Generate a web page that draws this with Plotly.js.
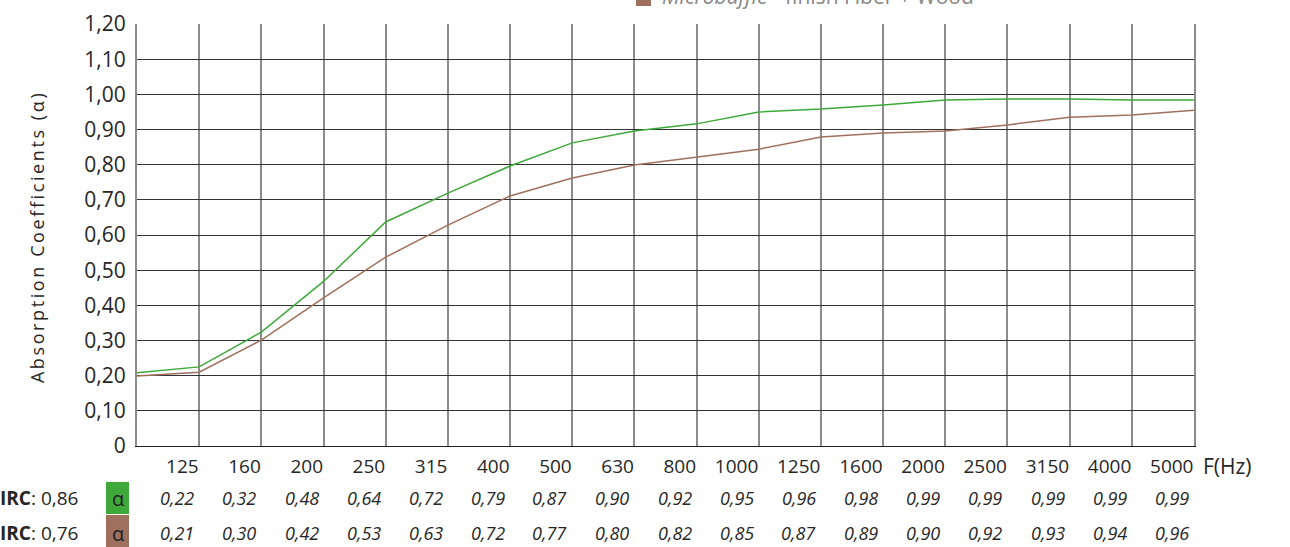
<!DOCTYPE html>
<html>
<head>
<meta charset="utf-8">
<script src="https://cdn.plot.ly/plotly-3.0.1.min.js"></script>
<style>
html,body{margin:0;padding:0;background:#fff;}
#chart{width:1290px;height:547px;}
</style>
</head>
<body>
<div id="chart"></div>
<script>
// Frequency labels (Hz) for the measured bands; the first plotted point has no label
const freqLabels = ['125','160','200','250','315','400','500','630','800','1000','1250','1600','2000','2500','3150','4000','5000'];
// Curve values (first point is the unlabeled start)
const greenLine = [0.208,0.225,0.324,0.468,0.637,0.719,0.796,0.862,0.896,0.916,0.950,0.958,0.970,0.984,0.987,0.987,0.984,0.984];
const brownLine = [0.199,0.210,0.301,0.421,0.537,0.628,0.711,0.762,0.799,0.822,0.844,0.879,0.890,0.896,0.913,0.935,0.941,0.955];
// Table values printed under the chart
const greenTable = ['0,22','0,32','0,48','0,64','0,72','0,79','0,87','0,90','0,92','0,95','0,96','0,98','0,99','0,99','0,99','0,99','0,99'];
const brownTable = ['0,21','0,30','0,42','0,53','0,63','0,72','0,77','0,80','0,82','0,85','0,87','0,89','0,90','0,92','0,93','0,94','0,96'];
const rowLabels = ['<b>IRC</b>: 0,86','<b>IRC</b>: 0,76'];
const legendText = '<i>Microbaffle</i> - finish Fiber + Wood';
const yTickVals = [0,0.1,0.2,0.3,0.4,0.5,0.6,0.7,0.8,0.9,1.0,1.1,1.2];
const yTickText = ['0','0,10','0,20','0,30','0,40','0,50','0,60','0,70','0,80','0,90','1,00','1,10','1,20'];

const GREEN = '#3ea83a';
const BROWN = '#a0705f';
const FONT = '"Open Sans", "Noto Sans", sans-serif';
const TXT = '#262626';

const W = 1290, H = 547;
const M = {l:137, r:96, t:24, b:101};
const PW = W - M.l - M.r, PH = H - M.t - M.b;
const px = X => (X - M.l) / PW;
const py = Y => (H - M.b - Y) / PH;

const xIdx = greenLine.map((_, i) => i);
const labelIdx = freqLabels.map((_, i) => i + 1);

const traces = [
  {x: xIdx, y: greenLine, type: 'scatter', mode: 'lines', line: {color: GREEN, width: 1.5}, name: 'Microbaffle', showlegend: false, hoverinfo: 'skip'},
  {x: xIdx, y: brownLine, type: 'scatter', mode: 'lines', line: {color: BROWN, width: 1.5}, name: 'Microbaffle - finish Fiber + Wood', showlegend: false, hoverinfo: 'skip'}
];

const annotations = [];
const shapes = [];
// table rows
[greenTable, brownTable].forEach((row, r) => {
  const Y = r === 0 ? 498 : 533;
  row.forEach((v, i) => {
    annotations.push({x: labelIdx[i], xref: 'x', y: py(Y), yref: 'paper', text: '<i>' + v + '</i>',
      showarrow: false, xanchor: 'right', yanchor: 'middle', xshift: -3,
      font: {family: FONT, size: 18, color: TXT}});
  });
  annotations.push({x: px(-2), xref: 'paper', y: py(Y), yref: 'paper', text: rowLabels[r],
    showarrow: false, xanchor: 'left', yanchor: 'middle', font: {family: FONT, size: 19, color: TXT}});
  shapes.push({type: 'rect', xref: 'paper', yref: 'paper', x0: px(106), x1: px(129),
    y0: py(r === 0 ? 514 : 548), y1: py(r === 0 ? 482 : 515), fillcolor: r === 0 ? GREEN : BROWN, line: {width: 0}});
  annotations.push({x: px(117.5), xref: 'paper', y: py(Y), yref: 'paper', text: 'α',
    showarrow: false, xanchor: 'center', yanchor: 'middle', font: {family: FONT, size: 20, color: '#222'}});
});
// x unit
annotations.push({x: px(1201), xref: 'paper', y: py(466), yref: 'paper', text: 'F(Hz)', showarrow: false,
  xanchor: 'left', yanchor: 'middle', font: {family: FONT, size: 21, color: TXT}});
// legend (cut at top)
shapes.push({type: 'rect', xref: 'paper', yref: 'paper', x0: px(636), x1: px(651), y0: py(6), y1: py(-10),
  fillcolor: BROWN, line: {width: 0}});
annotations.push({x: px(660), xref: 'paper', y: py(-4), yref: 'paper', text: legendText, showarrow: false,
  xanchor: 'left', yanchor: 'middle', font: {family: FONT, size: 21, color: '#888'}});
// y axis title
annotations.push({x: px(37), xref: 'paper', y: py(237), yref: 'paper', text: 'Absorption Coefficients (α)',
  textangle: -90, showarrow: false, xanchor: 'center', yanchor: 'middle',
  font: {family: FONT, size: 18, color: TXT}});

const layout = {
  width: W, height: H,
  margin: M,
  paper_bgcolor: '#fff', plot_bgcolor: '#fff',
  showlegend: false,
  font: {family: FONT, size: 19, color: TXT},
  xaxis: {
    range: [0, freqLabels.length], tickmode: 'array', tickvals: labelIdx, ticktext: freqLabels,
    ticklabelposition: 'outside left', ticks: '', showgrid: true, gridcolor: '#8c8c8c', gridwidth: 2,
    zeroline: false, showline: true, linecolor: '#222', linewidth: 1, mirror: false,
    tickfont: {family: FONT, size: 19, color: TXT}, ticklabelstandoff: 3, fixedrange: true
  },
  yaxis: {
    range: [0, 1.2], tickmode: 'array', tickvals: yTickVals, ticktext: yTickText,
    ticks: '', showgrid: true, gridcolor: '#333', gridwidth: 1, zeroline: false,
    showline: true, linecolor: '#8c8c8c', linewidth: 2, mirror: true,
    tickfont: {family: FONT, size: 21, color: TXT}, ticklabelstandoff: 5, fixedrange: true
  },
  shapes: shapes,
  annotations: annotations
};

Plotly.newPlot('chart', traces, layout, {staticPlot: true, displayModeBar: false}).then(gd => {
  gd.querySelectorAll('.annotation-text').forEach(t => {
    if (t.textContent.indexOf('Absorption') === 0) t.setAttribute('letter-spacing', '2.6px');
  });
});
</script>
</body>
</html>
